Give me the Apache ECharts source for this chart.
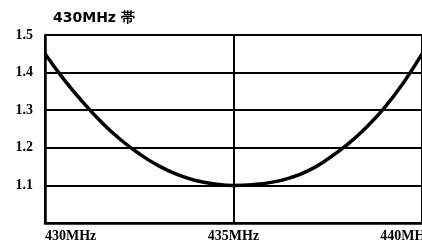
<!DOCTYPE html>
<html><head><meta charset="utf-8">
<script src="https://cdn.jsdelivr.net/npm/echarts@6/dist/echarts.min.js"></script>
<style>html,body{margin:0;padding:0;background:#fff}#c{width:422px;height:245px}</style>
</head><body><div id="c"></div>
<script>
const titleText = '430MHz 帯';
const freqs = [430,430.5,431,431.5,432,432.5,433,433.5,434,434.5,435,435.5,436,436.5,437,437.5,438,438.5,439,439.5,440];
const swr   = [1.45,1.382,1.322,1.268,1.222,1.184,1.153,1.129,1.113,1.104,1.10,1.102,1.108,1.12,1.14,1.17,1.207,1.252,1.306,1.372,1.45];
const xTicks = [430,435,440];
const yTicks = [1.1,1.2,1.3,1.4,1.5];

const chart = echarts.init(document.getElementById('c'), null, {renderer:'canvas'});
chart.setOption({
  animation:false,
  backgroundColor:'#fff',
  title:{text:titleText,left:48,top:6,textStyle:{fontFamily:'DejaVu Sans',fontWeight:'bold',fontSize:14,color:'#000'}},
  grid:{left:45,right:0,top:35,bottom:22,outerBoundsMode:'none',containLabel:false},
  xAxis:{type:'value',min:430,max:440,interval:5,
    axisLine:{lineStyle:{color:'#000',width:2.5}},axisTick:{show:false},
    splitLine:{show:true,lineStyle:{color:'#000',width:2}},
    axisLabel:{color:'#000',fontFamily:'Liberation Serif',fontWeight:'bold',fontSize:14,margin:6,
      alignMinLabel:'left',hideOverlap:false,
      formatter:v=> xTicks.includes(v) ? (v===440 ? '{r|'+v+'MHz}' : v+'MHz') : '',
      rich:{r:{padding:[0,32,0,0],fontFamily:'Liberation Serif',fontWeight:'bold',fontSize:14,color:'#000'}}}},
  yAxis:{type:'value',min:1.0,max:1.5,interval:0.1,
    axisLine:{show:true,lineStyle:{color:'#000',width:2.5}},axisTick:{show:false},
    splitLine:{show:true,lineStyle:{color:'#000',width:1.8}},
    axisLabel:{color:'#000',fontFamily:'Liberation Serif',fontWeight:'bold',fontSize:14,margin:12,
      formatter:v=>{const t=yTicks.find(k=>Math.abs(k-v)<1e-6);return t===undefined?'':t.toFixed(1);}}},
  series:[{type:'line',data:freqs.map((f,i)=>[f,swr[i]]),smooth:true,showSymbol:false,
    lineStyle:{color:'#000',width:3.5}}]
});
</script></body></html>
